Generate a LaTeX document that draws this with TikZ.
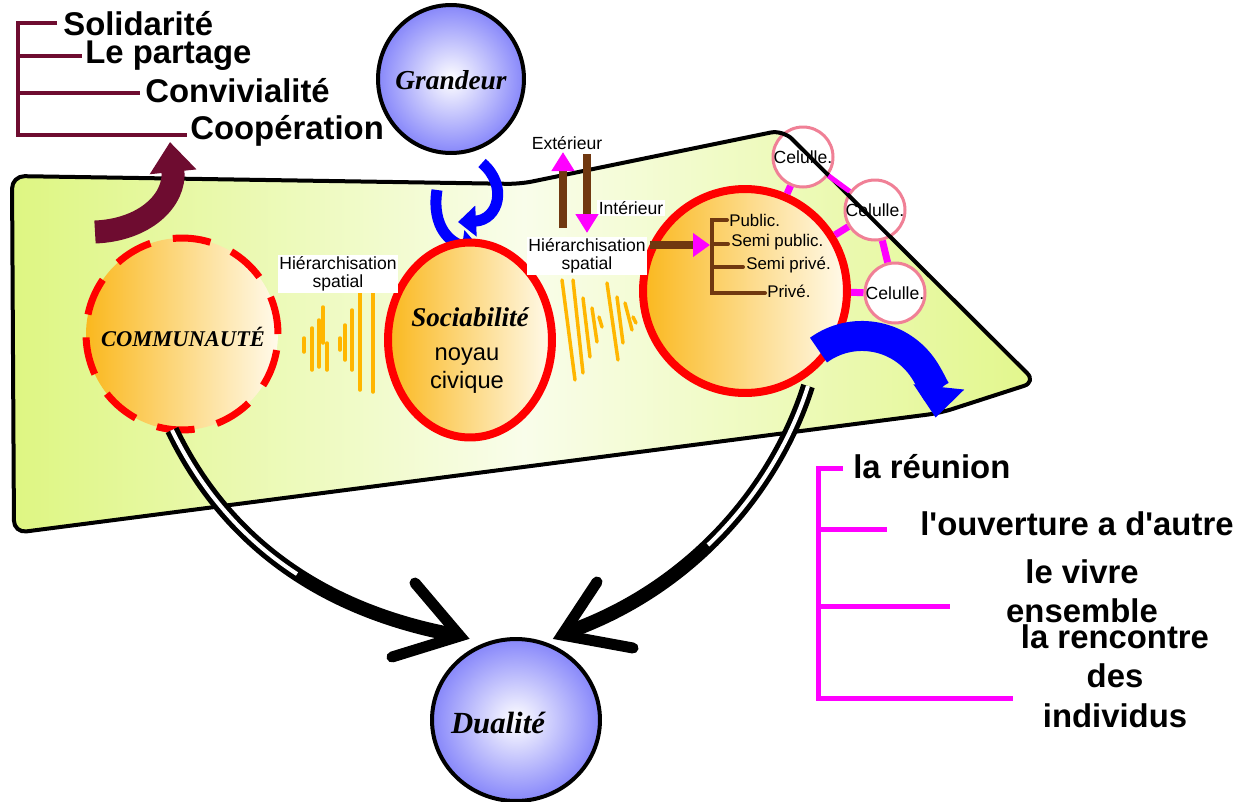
\documentclass[tikz,border=0pt]{standalone}
\usepackage{fontspec}
\setmainfont{Liberation Sans}
\newfontfamily\fancyf{Liberation Serif}
\usetikzlibrary{shapes.geometric,arrows.meta}
\definecolor{maroonc}{RGB}{110,12,48}
\definecolor{brownc}{RGB}{112,56,16}
\definecolor{pinkc}{RGB}{240,128,150}
\definecolor{waveor}{RGB}{255,182,0}
\definecolor{redc}{RGB}{255,0,0}
\definecolor{orL}{RGB}{250,184,30}
\definecolor{orR}{RGB}{255,250,235}
\definecolor{ballc}{RGB}{135,135,250}
\definecolor{grL}{RGB}{222,246,130}
\definecolor{grM}{RGB}{249,253,234}
\definecolor{grR}{RGB}{226,247,140}
\definecolor{magc}{RGB}{255,0,255}
\definecolor{bluec}{RGB}{0,0,255}
\tikzset{
  big/.style={font=\fontsize{18.7}{21}\selectfont\bfseries, inner sep=0pt},
  small/.style={font=\fontsize{10}{10}\selectfont, align=center, inner sep=1pt},
  fancy/.style={font=\fancyf\bfseries\itshape\fontsize{#1}{#1}\selectfont, inner sep=0pt},
  ball/.style={ellipse, draw=black, line width=0.08cm, inner color=white, outer color=ballc, inner sep=0pt},
  orball/.style={left color=orL, right color=orR, inner sep=0pt},
  cell/.style={circle, draw=pinkc, line width=0.06cm, fill=white, minimum size=1.16cm, inner sep=0pt, font=\fontsize{10}{10}\selectfont},
  wave/.style={draw=waveor, line width=0.07cm, line cap=round},
  maroonline/.style={draw=maroonc, line width=0.08cm},
  brownline/.style={draw=brownc, line width=0.08cm, line cap=round},
  magline/.style={draw=magc, line width=0.1cm},
  conn/.style={draw=magc, line width=0.14cm},
  bigarrow/.style={draw=black, line width=0.28cm},
  headv/.style={draw=black, line width=0.22cm, line cap=round, line join=miter},
}
\begin{document}
\begin{tikzpicture}[x=0.02cm,y=-0.02cm]
\clip (0,0) rectangle (1242,802);
\fill[white] (0,0) rectangle (1242,802);
% green plane
\shade[left color=grL, right color=grR, middle color=grM, rounded corners=0.25cm]
  (12,176) -- (520,184) -- (783,130) -- (1036,382) -- (940,413) -- (14,533) -- cycle;
% cells
\node[cell] (cel1) at (803,157) {Celulle.};
\node[cell] (cel2) at (875,210) {Celulle.};
\node[cell] (cel3) at (895,293) {Celulle.};
% plane outline
\draw[line width=0.08cm, rounded corners=0.25cm, line join=round]
  (12,176) -- (520,184) -- (783,130) -- (1036,382) -- (940,413) -- (14,533) -- cycle;

% top-left bracket
\draw[maroonline] (57,23) -- (18,23) -- (18,135) -- (187,135);
\draw[maroonline] (18,56) -- (82,56);
\draw[maroonline] (18,93) -- (140,93);
\node[big, anchor=base west] (t1) at (63,35) {Solidarité};
\node[big, anchor=base west] (t2) at (85,63) {Le partage};
\node[big, anchor=base west] (t3) at (145,102) {Convivialité};
\node[big, anchor=base west] (t4) at (190,139) {Coopération};
% maroon arrow
\coordinate (mA) at (95,232);
\coordinate (mB) at (170,142);
\draw[draw=maroonc, line width=0.46cm, -{Triangle[length=0.6cm,width=0.9cm]}]
  (mA) .. controls (145,230) and (176,200) .. (mB);

% Grandeur
\node[ball, minimum width=2.92cm, minimum height=2.96cm] (grand) at (451,79) {};
\node[fancy=15.6] (grandt) at (451,80) {Grandeur};
% blue swirl arrows
\coordinate (b1s) at (482,163);
\coordinate (b1e) at (458,222);
\coordinate (b2s) at (437,190);
\coordinate (b2e) at (480,248);
\draw[draw=bluec, line width=0.22cm, -{Triangle[length=0.36cm,width=0.6cm]}]
  (b1s) .. controls (508,185) and (499,220) .. (b1e);
\draw[draw=bluec, line width=0.22cm, -{Triangle[length=0.36cm,width=0.6cm]}]
  (b2s) .. controls (431,228) and (452,244) .. (b2e);

% main circles
\node[circle, orball, draw=redc, line width=0.14cm, dash pattern=on 0.76cm off 0.46cm, minimum size=3.84cm] (comm) at (182,334) {};
\node[fancy=12.8] (commt) at (183,337) {COMMUNAUTÉ};
\node[ellipse, orball, draw=redc, line width=0.16cm, minimum width=3.28cm, minimum height=3.9cm] (soc) at (470,340) {};
\node[fancy=15.4] (soct) at (470,317) {Sociabilité};
\node[font=\fontsize{13.5}{15.9}\selectfont, align=center, inner sep=0pt] (noy) at (467,371) {noyau\\civique};
\node[circle, orball, draw=redc, line width=0.16cm, minimum size=4.08cm] (hier) at (745,291) {};

% waves group 1
\foreach \x/\a/\b in {304/338/352, 312/328/370, 319/320/367, 323/307/343, 327/343/370, 340/338/350, 345/325/360, 352/310/370, 360/293/390, 373/287/392}
  \draw[wave] (\x,\a) -- (\x,\b);
% waves group 2
\foreach \xa/\ya/\xb/\yb in {562/280/575/380, 573/280/583/373, 583/298/590/357, 592/308/597/342, 599/317/602/327, 607/283/618/360, 617/297/623/343, 625/303/632/330, 633/317/636/323}
  \draw[wave] (\xa,\ya) -- (\xb,\yb);

% labels
\node[small, fill=white] (h1) at (338,274) {Hiérarchisation\\spatial};
\node[small, fill=white] (h2) at (587,256) {Hiérarchisation\\spatial};
\node[small] (ext) at (567,143) {Extérieur};
\node[small, fill=white] (int) at (631,208) {Intérieur};

% exterior / interior arrows
\coordinate (eA) at (563,228);
\coordinate (eB) at (563,152);
\coordinate (iA) at (587,154);
\coordinate (iB) at (587,233);
\draw[draw=brownc, line width=0.16cm, -{Triangle[color=magc,length=0.38cm,width=0.44cm]}] (eA) -- (eB);
\draw[draw=brownc, line width=0.16cm, -{Triangle[color=magc,length=0.38cm,width=0.44cm]}] (iA) -- (iB);

% brown arrow and bracket
\coordinate (brA) at (650,245);
\coordinate (brB) at (710,245);
\draw[draw=brownc, line width=0.16cm, -{Triangle[color=magc,length=0.34cm,width=0.46cm]}] (brA) -- (brB);
\draw[brownline] (727,220) -- (712,220) -- (712,293) -- (765,293);
\draw[brownline] (712,244) -- (728,244);
\draw[brownline] (712,267) -- (743,267);
\node[font=\fontsize{9.6}{10}\selectfont, anchor=west, inner sep=0pt] (p1) at (729,220) {Public.};
\node[font=\fontsize{9.6}{10}\selectfont, anchor=west, inner sep=0pt] (p2) at (731,242) {Semi public.};
\node[font=\fontsize{9.6}{10}\selectfont, anchor=west, inner sep=0pt] (p3) at (746,265) {Semi privé.};
\node[font=\fontsize{9.6}{10}\selectfont, anchor=west, inner sep=0pt] (p4) at (767,291) {Privé.};

% magenta connectors
\draw[conn] (hier) -- (cel1);
\draw[draw=magc, line width=0.1cm] (cel1) -- (cel2);
\draw[conn] (hier) -- (cel2);
\draw[conn] (cel2) -- (cel3);
\draw[conn] (hier) -- (cel3);

% big blue arrow
\draw[draw=bluec, line width=0.6cm, -{Triangle[length=0.62cm,width=0.98cm]}]
  (818.5,350.1) arc[start angle=-126, end angle=6, radius=74];

% Dualite
\node[ball, minimum width=3.36cm, minimum height=3.24cm] (dual) at (516,720) {};
\node[fancy=17.5] (dualt) at (498,723) {Dualité};

% black arrows to Dualite
\coordinate (lA) at (172,430);
\coordinate (lB) at (455,635);
\draw[bigarrow] (lA) .. controls (225,540) and (320,610) .. (lB);
\draw[white, line width=0.08cm] (lA) .. controls (201,490) and (243,539) .. (297,574);
\draw[headv] (415,583) -- (460,636) -- (392,657);
\coordinate (rA) at (808,386);
\coordinate (rB) at (565,633);
\draw[bigarrow] (rA) .. controls (775,490) and (690,590) .. (rB);
\draw[white, line width=0.08cm] (rA) .. controls (790,443) and (756,499) .. (708,545);
\draw[headv] (597,582) -- (562,635) -- (633,648);

% right bracket
\draw[magline] (843,468) -- (818,468) -- (818,698) -- (1013,698);
\draw[magline] (818,529) -- (887,529);
\draw[magline] (818,606) -- (950,606);
\node[big, anchor=base west] (r1) at (853,478) {la réunion};
\node[big, anchor=base west] (r2) at (920,535) {l\textquotesingle ouverture a d\textquotesingle autre};
\node[big, anchor=base] (r3) at (1082,583) {le vivre};
\node[big, anchor=base] (r4) at (1082,622) {ensemble};
\node[big, anchor=base] (r5) at (1115,648) {la rencontre};
\node[big, anchor=base] (r6) at (1115,687) {des};
\node[big, anchor=base] (r7) at (1115,727) {individus};
\end{tikzpicture}
\end{document}
